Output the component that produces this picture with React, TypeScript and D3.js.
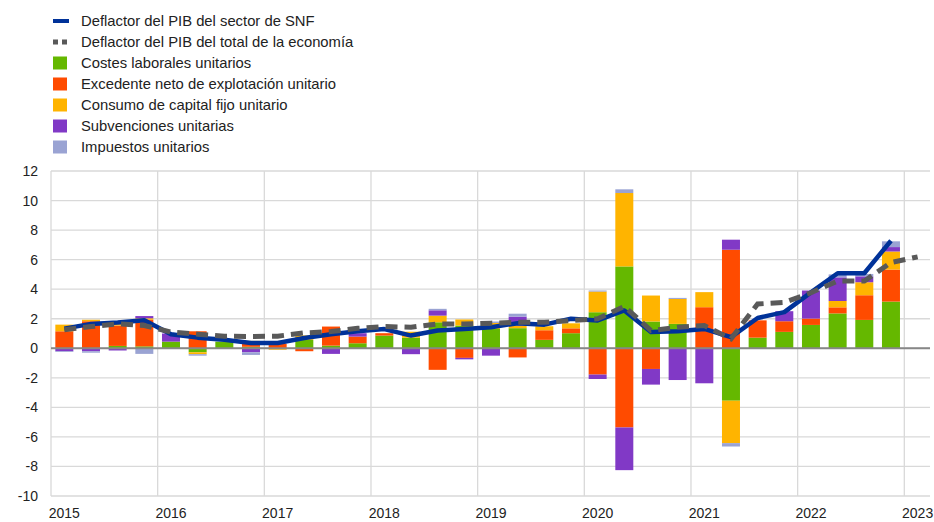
import React from 'react';
import * as d3 from 'd3';

// quarters 2015Q1 .. 2022Q4 (bars), deflator of total economy runs to 2023Q1
const years = ['2015', '2016', '2017', '2018', '2019', '2020', '2021', '2022', '2023'];
const yTicks = [-10, -8, -6, -4, -2, 0, 2, 4, 6, 8, 10, 12];

const labourCosts = [
  0, 0, 0.16, 0.13, 0.45, -0.27, 0.45, 0.1, 0, 0.57, 0.18, 0.34, 0.86, 0.72, 1.76, 1.54,
  1.31, 1.36, 0.57, 1.02, 2.44, 5.54, 1.81, 1.65, 0, -3.55, 0.72, 1.11, 1.58, 2.36, 1.92, 3.16,
];
const operatingSurplus = [
  1.15, 1.83, 1.38, 1.8, 0, 1.15, 0, 0.3, 0.3, -0.2, 1.29, 0.45, 0.16, 0, -1.46, -0.65,
  0, -0.62, 0.65, 0.33, -1.78, -5.36, -1.4, 0, 2.78, 6.67, 1.17, 0.72, 0.43, 0.41, 1.67, 2.17,
];
const capitalConsumption = [
  0.45, 0.1, 0.2, 0.1, 0, -0.13, 0, 0.1, -0.1, 0.3, 0, 0, 0, 0.4, 0.45, 0.41,
  0.4, 0.18, 0.27, 0.34, 1.4, 4.97, 1.76, 1.69, 1.02, -2.87, 0, 0, 0, 0.43, 0.88, 1.22,
];
const subsidies = [
  -0.2, -0.2, -0.15, 0.15, 0.55, 0, 0, -0.27, 0, 0, -0.38, 0.23, 0, -0.4, 0.36, -0.1,
  -0.5, 0.6, -0.05, -0.05, -0.3, -2.89, -1.06, -2.15, -2.37, 0.68, 0, 0.68, 1.9, 1.6, 0.4, 0.3,
];
const taxes = [
  -0.05, -0.1, 0, -0.38, 0, -0.1, -0.05, -0.18, 0, 0, 0, 0, 0, 0, 0.1, 0,
  0.1, 0.2, 0, 0, 0.07, 0.25, 0, 0.07, 0, -0.23, 0, 0, 0, 0.2, 0.16, 0.39,
];
const deflatorNFC = [
  1.33, 1.65, 1.75, 1.9, 0.95, 0.72, 0.57, 0.36, 0.36, 0.7, 0.95, 1.15, 1.3, 0.86, 1.2, 1.3,
  1.42, 1.7, 1.6, 2.0, 1.88, 2.56, 1.1, 1.15, 1.31, 0.75, 2.05, 2.45, 3.78, 5.08, 5.08, 7.28,
];
const deflatorTotal = [
  1.25, 1.47, 1.65, 1.54, 1.1, 0.95, 0.82, 0.8, 0.82, 1.04, 1.13, 1.35, 1.47, 1.42, 1.65, 1.65,
  1.7, 1.76, 1.76, 1.88, 2.0, 2.83, 1.2, 1.42, 1.54, 0.64, 3.0, 3.1, 3.76, 4.55, 4.55, 5.8, 6.19,
];

const seriesKeys = ['labour', 'surplus', 'capital', 'subsidies', 'taxes'];
const seriesNames = [
  'Costes laborales unitarios',
  'Excedente neto de explotación unitario',
  'Consumo de capital fijo unitario',
  'Subvenciones unitarias',
  'Impuestos unitarios',
];
const seriesColors = ['#65b800', '#ff4b00', '#ffb400', '#8139c6', '#9aa3d3'];

const margin = { left: 51, right: 4, top: 171, bottom: 26 };
const width = 934;
const height = 522;

const App = () => {
  const table = labourCosts.map((_, i) => ({
    i,
    labour: labourCosts[i],
    surplus: operatingSurplus[i],
    capital: capitalConsumption[i],
    subsidies: subsidies[i],
    taxes: taxes[i],
  }));

  const quarterW = (904.3 - margin.left) / 32;
  const x = d3
    .scaleLinear()
    .domain([0, 32])
    .range([margin.left, margin.left + quarterW * 32]);
  const y = d3
    .scaleLinear()
    .domain([-10, 12])
    .range([height - margin.bottom, margin.top]);

  const stacked = d3
    .stack<any>()
    .keys(seriesKeys)
    .offset(d3.stackOffsetDiverging)(table);

  const barW = 18;

  const lineGen = d3
    .line<number>()
    .x((_, i) => x(i + 0.5))
    .y((d) => y(d));

  const plotRight = width - margin.right;

  return (
    <svg
      width={width}
      height={height}
      style={{ position: 'absolute', left: 0, top: 0, fontFamily: 'Arial, "Liberation Sans", sans-serif' }}
    >
      {/* grid */}
      {yTicks.map((t) => (
        <line
          key={'h' + t}
          x1={margin.left}
          x2={plotRight}
          y1={y(t)}
          y2={y(t)}
          stroke="#d9d9d9"
          strokeWidth={1.3}
        />
      ))}
      {years.map((yr, k) => (
        <line
          key={'v' + yr}
          x1={x(k * 4)}
          x2={x(k * 4)}
          y1={y(12)}
          y2={y(-10)}
          stroke="#d9d9d9"
          strokeWidth={1.3}
        />
      ))}

      {/* bars */}
      {stacked.map((layer, s) => (
        <g key={layer.key} fill={seriesColors[s]}>
          {layer.map((d, i) => {
            const h = Math.abs(y(d[0]) - y(d[1]));
            if (h < 0.01) return null;
            return (
              <rect
                key={i}
                x={x(i + 0.5) - barW / 2}
                y={Math.min(y(d[0]), y(d[1]))}
                width={barW}
                height={h}
              />
            );
          })}
        </g>
      ))}

      {/* zero line */}
      <line x1={margin.left} x2={plotRight} y1={y(0)} y2={y(0)} stroke="#878787" strokeWidth={2} />

      {/* lines */}
      <path d={lineGen(deflatorNFC) ?? ''} fill="none" stroke="#003299" strokeWidth={4.5} strokeLinejoin="round" />
      <path d={lineGen(deflatorTotal) ?? ''} fill="none" stroke="#595959" strokeWidth={5} strokeDasharray="12,7" />

      {/* y axis labels */}
      {yTicks.map((t) => (
        <text key={'yl' + t} x={38} y={y(t) + 5} textAnchor="end" fontSize={14} fill="#222">
          {t}
        </text>
      ))}
      {/* x axis labels */}
      {years.map((yr, k) => (
        <text key={'xl' + yr} x={x(k * 4 + 0.5)} y={518} textAnchor="middle" fontSize={14} fill="#222">
          {yr}
        </text>
      ))}

      {/* legend */}
      <g fontSize={14.8} fill="#222">
        <rect x={53} y={19} width={16} height={4} fill="#003299" />
        <text x={81} y={26}>Deflactor del PIB del sector de SNF</text>
        <rect x={53} y={39.5} width={5} height={5} fill="#595959" />
        <rect x={62} y={39.5} width={5} height={5} fill="#595959" />
        <text x={81} y={47}>Deflactor del PIB del total de la economía</text>
        {seriesNames.map((name, s) => (
          <g key={name}>
            <rect x={53} y={56.5 + s * 21} width={14} height={13} fill={seriesColors[s]} />
            <text x={81} y={68 + s * 21}>
              {name}
            </text>
          </g>
        ))}
      </g>
    </svg>
  );
};

export default App;
